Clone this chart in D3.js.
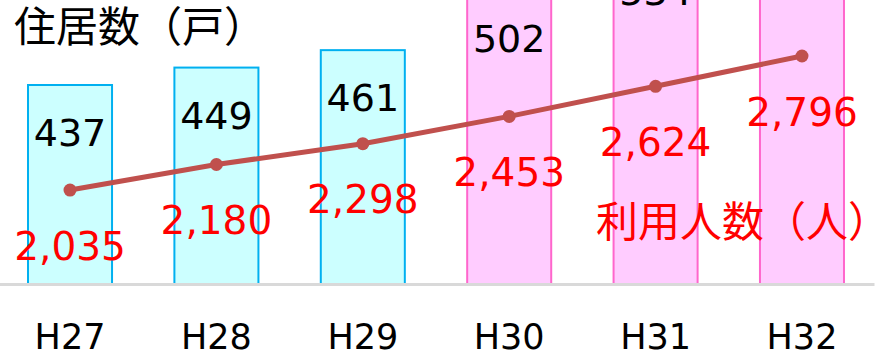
<!DOCTYPE html>
<html>
<head>
<meta charset="utf-8">
<script src="https://cdn.jsdelivr.net/npm/d3@7"></script>
<style>
  body { margin: 0; background: #fff; }
  svg { display: block; }
</style>
</head>
<body>
<div id="container"></div>
<script>
// data (H32 household count is cut off at the top: estimated)
var years = ["H27", "H28", "H29", "H30", "H31", "H32"];
var households = [437, 449, 461, 502, 534, 566];
var users = [2035, 2180, 2298, 2453, 2624, 2796];
var planned = [false, false, false, true, true, true];

var width = 883, height = 355;
var baseY = 284;

var svg = d3.select("#container").append("svg")
  .attr("width", width)
  .attr("height", height);

// scales
var x = d3.scaleBand().domain(years).range([-2, 874])
  .paddingInner(0.426).paddingOuter(0.205);
var yBar = d3.scaleLinear().domain([300, 500]).range([baseY, -6.5]);
var yLine = d3.scaleLinear().domain([2000, 2800]).range([196.2, 55.3]);

var digitFont = "'DejaVu Sans', Verdana, sans-serif";
var cjkFont = "'Noto Sans CJK JP', 'Noto Sans', sans-serif";

// bars
svg.selectAll(".bar")
  .data(years).enter()
  .append("rect")
    .attr("class", "bar")
    .attr("x", function(d) { return x(d); })
    .attr("width", x.bandwidth())
    .attr("y", function(d, i) { return yBar(households[i]); })
    .attr("height", function(d, i) { return baseY - yBar(households[i]); })
    .style("fill", function(d, i) { return planned[i] ? "#ffccff" : "#ccffff"; })
    .style("stroke", function(d, i) { return planned[i] ? "#ff66cc" : "#00b0f0"; })
    .style("stroke-width", 2);

// category axis
var axis = svg.append("g")
  .attr("transform", "translate(0," + baseY + ")")
  .call(d3.axisBottom(x).tickSize(0).tickSizeOuter(0).tickPadding(40));
axis.select(".domain").style("stroke", "#d9d9d9").style("stroke-width", 3);
axis.selectAll("text")
  .style("font-family", digitFont)
  .style("font-size", "35px")
  .style("fill", "#000");

// line of users
var line = d3.line()
  .x(function(d, i) { return x(years[i]) + x.bandwidth() / 2; })
  .y(function(d) { return yLine(d); });

svg.append("path")
  .datum(users)
  .attr("d", line)
  .style("fill", "none")
  .style("stroke", "#c0504d")
  .style("stroke-width", 5);

svg.selectAll(".dot")
  .data(users).enter()
  .append("circle")
    .attr("class", "dot")
    .attr("r", 6.5)
    .attr("cx", function(d, i) { return x(years[i]) + x.bandwidth() / 2; })
    .attr("cy", function(d) { return yLine(d); })
    .style("fill", "#c0504d");

// household labels inside bars
svg.selectAll(".hlabel")
  .data(households).enter()
  .append("text")
    .attr("class", "hlabel")
    .attr("x", function(d, i) { return x(years[i]) + x.bandwidth() / 2; })
    .attr("y", function(d) { return yBar(d) + 48; })
    .attr("dy", ".35em")
    .style("text-anchor", "middle")
    .style("font-family", digitFont)
    .style("font-size", "38px")
    .style("fill", "#000")
    .text(function(d) { return d; });

// user labels below points
svg.selectAll(".ulabel")
  .data(users).enter()
  .append("text")
    .attr("class", "ulabel")
    .attr("x", function(d, i) { return x(years[i]) + x.bandwidth() / 2; })
    .attr("y", function(d) { return yLine(d) + 56; })
    .attr("dy", ".35em")
    .style("text-anchor", "middle")
    .style("font-family", digitFont)
    .style("font-size", "39px")
    .style("fill", "#ff0000")
    .text(function(d) { return d3.format(",")(d); });

// titles
svg.append("text")
  .attr("x", 14)
  .attr("y", 27)
  .attr("dy", ".35em")
  .style("font-family", cjkFont)
  .style("font-size", "42px")
  .style("fill", "#000")
  .text("住居数（戸）");

svg.append("text")
  .attr("x", 596)
  .attr("y", 222)
  .attr("dy", ".35em")
  .style("font-family", cjkFont)
  .style("font-size", "42px")
  .style("fill", "#ff0000")
  .text("利用人数（人）");
</script>
</body>
</html>
